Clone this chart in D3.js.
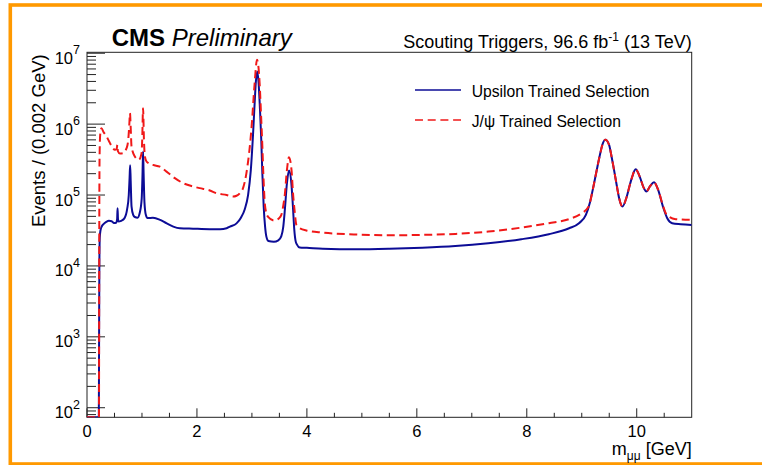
<!DOCTYPE html>
<html><head><meta charset="utf-8">
<script src="https://cdn.jsdelivr.net/npm/d3@7"></script>
<style>
body{margin:0;background:#fff}
svg{display:block}
text{font-family:"Liberation Sans",Arial,Helvetica,sans-serif;fill:#000}
</style>
</head><body>
<svg id="c" width="762" height="465"></svg>
<script>
// ---- data ----
const upsMass = [0.0,0.215,0.220,0.225,0.232,0.245,0.27,0.30,0.35,0.40,0.45,0.49,0.53,0.548,0.556,0.564,0.575,0.62,0.68,0.73,0.76,0.775,0.785,0.795,0.81,0.84,0.87,0.92,0.96,0.995,1.010,1.020,1.030,1.045,1.07,1.10,1.20,1.33,1.45,1.57,1.69,1.93,2.23,2.42,2.54,2.60,2.72,2.80,2.87,2.93,2.98,3.02,3.05,3.07,3.097,3.12,3.15,3.17,3.19,3.214,3.24,3.263,3.30,3.40,3.48,3.535,3.57,3.60,3.637,3.675,3.717,3.745,3.77,3.795,3.82,3.87,4.0,4.29,4.9,5.5,6.1,6.7,7.3,7.9,8.4,8.77,8.95,9.075,9.15,9.22,9.285,9.34,9.375,9.43,9.497,9.54,9.587,9.64,9.68,9.74,9.81,9.86,9.91,9.98,10.054,10.13,10.175,10.24,10.315,10.39,10.477,10.555,10.645,10.80,11.0];
const upsEvents = [50,50,1000,10000,25000,31600,36300,38900,41700,43200,42700,40300,40700,45700,65200,45700,42200,43200,46800,63100,100000,178000,264000,158000,69200,52500,49000,47900,56200,89100,200000,410000,200000,79400,52500,47300,47900,44700,39800,35900,34000,33500,33000,33000,34000,35900,39800,47900,63100,100000,224000,708000,2000000,3800000,5520000,3980000,1410000,603000,200000,69200,35500,25900,22400,21900,22900,26300,35500,63100,147000,221000,147000,70800,33100,22400,20000,18200,18000,17500,17200,17500,18100,19100,20900,23800,28000,34000,40100,52500,79400,141000,251000,398000,511000,600000,511000,355000,226000,132000,90200,68700,90200,126000,173000,231000,182000,125000,112000,132000,151000,118000,68700,47100,40100,38800,37900];

const jpsiMass = [0.0,0.218,0.222,0.228,0.24,0.263,0.30,0.357,0.40,0.448,0.508,0.54,0.552,0.562,0.60,0.65,0.72,0.75,0.770,0.782,0.795,0.81,0.87,0.94,0.993,1.005,1.020,1.035,1.053,1.084,1.20,1.326,1.447,1.598,1.75,1.93,2.05,2.234,2.355,2.54,2.656,2.72,2.78,2.84,2.90,2.95,2.99,3.05,3.092,3.14,3.165,3.19,3.21,3.23,3.26,3.29,3.41,3.49,3.535,3.57,3.595,3.637,3.674,3.72,3.75,3.775,3.808,3.84,3.99,4.29,4.9,5.5,6.1,6.7,7.3,7.9,8.4,8.77,9.0,9.12,9.22,9.285,9.34,9.375,9.43,9.497,9.54,9.587,9.64,9.68,9.74,9.81,9.86,9.91,9.98,10.054,10.13,10.175,10.24,10.315,10.39,10.477,10.53,10.586,10.71,11.0];
const jpsiEvents = [50,50,10000,316000,708000,877000,776000,668000,575000,490000,434000,447000,511000,417000,385000,389000,458000,600000,1000000,1430000,891000,483000,349000,313000,389000,631000,1680000,631000,349000,296000,266000,251000,214000,173000,147000,132000,125000,116000,106000,100000,95100,97700,106000,126000,204000,398000,832000,3800000,8090000,3800000,1410000,483000,178000,85100,56200,49700,43700,46800,52500,70800,95100,226000,342000,226000,100000,61700,38000,35500,31600,29500,27700,27100,27400,28300,30500,34700,40100,45700,55500,67600,141000,251000,398000,511000,600000,511000,355000,226000,132000,90200,68700,90200,126000,173000,231000,182000,125000,112000,132000,151000,118000,70800,55000,49700,45700,44600];

const seriesNames = ["Upsilon Trained Selection", "J/\u03C8 Trained Selection"];
const xTickValues = [0,2,4,6,8,10];
const yTickExponents = [2,3,4,5,6,7];

// ---- layout ----
const L = 87, R = 691.7, T = 52.3, B = 417.3;
const svg = d3.select("#c");

// orange border
svg.append("rect").attr("x",10.3).attr("y",5).attr("width",900).attr("height",459)
  .attr("fill","none").attr("stroke","#ff9900").attr("stroke-width",3.6);

const x = d3.scaleLinear().domain([0,11]).range([L,R]);
const y = d3.scaleLog().domain([Math.pow(10,1.865), Math.pow(10,7.013)]).range([B,T]).clamp(true);

svg.append("clipPath").attr("id","clip").append("rect")
  .attr("x",L).attr("y",T).attr("width",R-L).attr("height",B-T);

// frame + ticks
const g = svg.append("g");
// x ticks
const xMinor = d3.range(0,11.01,0.5).filter(v=>!xTickValues.includes(v) && v<11);
g.selectAll(".xmaj").data(xTickValues).enter().append("line")
  .attr("x1",d=>x(d)).attr("x2",d=>x(d)).attr("y1",B).attr("y2",B-9)
  .attr("stroke","#222").attr("stroke-width",1);
g.selectAll(".xmin").data(xMinor).enter().append("line")
  .attr("x1",d=>x(d)).attr("x2",d=>x(d)).attr("y1",B).attr("y2",B-4.5)
  .attr("stroke","#222").attr("stroke-width",1);
g.selectAll(".xlab").data(xTickValues).enter().append("text")
  .attr("x",d=>x(d)).attr("y",436.5).attr("text-anchor","middle")
  .attr("font-size",16.5).text(d=>d);

// y ticks
const yMinor = [];
for (let e=1;e<=6;e++) for (let k=2;k<=9;k++){ const v=k*Math.pow(10,e); if (v>y.domain()[0] && v<y.domain()[1]) yMinor.push(v); }
g.selectAll(".ymaj").data(yTickExponents).enter().append("line")
  .attr("x1",L).attr("x2",L+18).attr("y1",d=>y(Math.pow(10,d))).attr("y2",d=>y(Math.pow(10,d)))
  .attr("stroke","#222").attr("stroke-width",1);
g.selectAll(".ymin").data(yMinor).enter().append("line")
  .attr("x1",L).attr("x2",L+9).attr("y1",d=>y(d)).attr("y2",d=>y(d))
  .attr("stroke","#222").attr("stroke-width",1);
const yl = g.selectAll(".ylab").data(yTickExponents).enter().append("text")
  .attr("x",80).attr("y",d=>y(Math.pow(10,d))+10.5).attr("text-anchor","end")
  .attr("font-size",16.5);
yl.append("tspan").text("10");
yl.append("tspan").attr("dy",-9.5).attr("font-size",12.5).text(d=>d);

// frame
g.append("rect").attr("x",L).attr("y",T).attr("width",R-L).attr("height",B-T)
  .attr("fill","none").attr("stroke","#222").attr("stroke-width",1);

// curves
const line = d3.line().x(d=>x(d[0])).y(d=>y(d[1])).curve(d3.curveMonotoneX);
const ups = upsMass.map((m,i)=>[m,upsEvents[i]]);
const jpsi = jpsiMass.map((m,i)=>[m,jpsiEvents[i]]);
const cg = svg.append("g").attr("clip-path","url(#clip)");
cg.append("path").attr("d",line(ups)).attr("fill","none").attr("stroke","#0c0c96")
  .attr("stroke-width",2).attr("stroke-linejoin","round");
cg.append("path").attr("d",line(jpsi)).attr("fill","none").attr("stroke","#f01818")
  .attr("stroke-width",2).attr("stroke-dasharray","8,4.5");

// legend
const leg = svg.append("g");
leg.append("line").attr("x1",415).attr("x2",461).attr("y1",90).attr("y2",90)
  .attr("stroke","#0c0c96").attr("stroke-width",1.6);
leg.append("line").attr("x1",415).attr("x2",461).attr("y1",120).attr("y2",120)
  .attr("stroke","#f01818").attr("stroke-width",1.6).attr("stroke-dasharray","8,4.7");
leg.append("text").attr("x",471.7).attr("y",96.5).attr("font-size",15.7).text(seriesNames[0]);
leg.append("text").attr("x",471.7).attr("y",126.5).attr("font-size",15.7).text(seriesNames[1]);

// header texts
const cms = svg.append("text").attr("x",111.7).attr("y",46).attr("font-size",24);
cms.append("tspan").attr("font-weight","bold").text("CMS");
cms.append("tspan").attr("font-style","italic").text(" Preliminary");

const lumi = svg.append("text").attr("x",R).attr("y",47.7).attr("text-anchor","end").attr("font-size",18);
lumi.append("tspan").text("Scouting Triggers, 96.6 fb");
lumi.append("tspan").attr("dy",-7).attr("font-size",12).text("-1");
lumi.append("tspan").attr("dy",7).text(" (13 TeV)");

// axis titles
const xt = svg.append("text").attr("x",R).attr("y",455).attr("text-anchor","end").attr("font-size",18);
xt.append("tspan").text("m");
xt.append("tspan").attr("dy",4.5).attr("font-size",12).text("\u03BC\u03BC");
xt.append("tspan").attr("dy",-4.5).text(" [GeV]");

svg.append("text").attr("transform",`translate(44.5,${T+2}) rotate(-90)`)
  .attr("text-anchor","end").attr("font-size",18.5).text("Events / (0.002 GeV)");
</script>
</body></html>
